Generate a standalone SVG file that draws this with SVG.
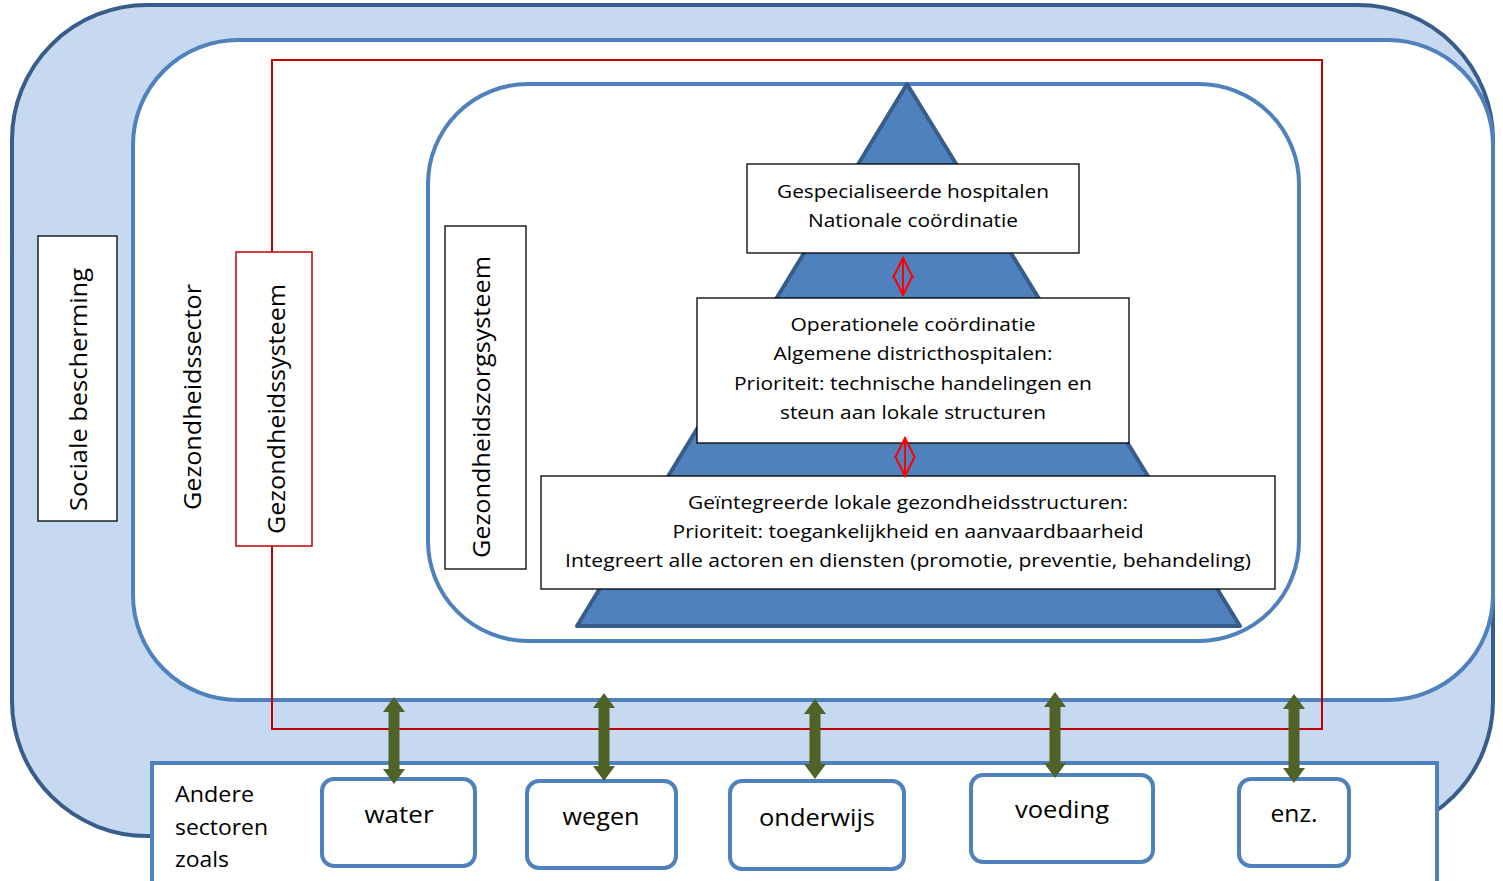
<svg xmlns="http://www.w3.org/2000/svg" width="1503" height="881" viewBox="0 0 1503 881">
<style>
text{font-family:"Open Sans","Liberation Sans",sans-serif;fill:#000}
.t{font-size:19px;text-anchor:middle}
.v{font-size:24px;text-anchor:middle}
.s{font-size:23px;text-anchor:middle}
.blue{fill:#fff;stroke:#4F81BD;stroke-width:4}
.box{fill:#fff;stroke:#000;stroke-width:1.3}
.garrow{fill:#4F6228}
.rarrow{fill:none;stroke:#FF0000;stroke-width:2}
</style>
<rect width="1503" height="881" fill="#fff"/>
<g id="sociale-bescherming">
<rect x="12" y="5" width="1481" height="831" rx="135" fill="#C6D9F1" stroke="#385D8A" stroke-width="4"/>
</g>
<g id="gezondheidssector">
<rect x="133" y="40" width="1360" height="660" rx="105" class="blue"/>
</g>
<g id="gezondheidssysteem">
<rect x="272" y="60" width="1050" height="669" fill="none" stroke="#C00000" stroke-width="2"/>
</g>
<g id="gezondheidszorgsysteem">
<rect x="428" y="84" width="871" height="557" rx="100" class="blue"/>
</g>
<g id="pyramid">
<polygon points="907,84 1240,626 577,626" fill="#4F81BD" stroke="#385D8A" stroke-width="4" stroke-linejoin="round"/>
</g>
<g id="label-sociale">
<rect x="38" y="236" width="79" height="285" class="box"/>
<text class="v" transform="translate(87,389.5) rotate(-90)" textLength="243" lengthAdjust="spacingAndGlyphs">Sociale bescherming</text>
</g>
<g id="label-sector">
<text class="v" transform="translate(201,397) rotate(-90)" textLength="226" lengthAdjust="spacingAndGlyphs">Gezondheidssector</text>
</g>
<g id="label-systeem">
<rect x="236" y="252" width="76" height="294" fill="#fff" stroke="#C00000" stroke-width="1.5"/>
<text class="v" transform="translate(285,409) rotate(-90)" textLength="250" lengthAdjust="spacingAndGlyphs">Gezondheidssysteem</text>
</g>
<g id="label-zorgsysteem">
<rect x="445" y="226" width="81" height="343" class="box"/>
<text class="v" transform="translate(490,407) rotate(-90)" textLength="302" lengthAdjust="spacingAndGlyphs">Gezondheidszorgsysteem</text>
</g>
<g id="level-top">
<rect x="747" y="164" width="332" height="89" class="box"/>
<text class="t" x="913" y="198" textLength="272" lengthAdjust="spacingAndGlyphs">Gespecialiseerde hospitalen</text>
<text class="t" x="913" y="227" textLength="210" lengthAdjust="spacingAndGlyphs">Nationale coördinatie</text>
</g>
<g id="level-middle">
<rect x="697" y="298" width="432" height="145" class="box"/>
<text class="t" x="913" y="330.5" textLength="245" lengthAdjust="spacingAndGlyphs">Operationele coördinatie</text>
<text class="t" x="913" y="359.5" textLength="279" lengthAdjust="spacingAndGlyphs">Algemene districthospitalen:</text>
<text class="t" x="913" y="389.5" textLength="358" lengthAdjust="spacingAndGlyphs">Prioriteit: technische handelingen en</text>
<text class="t" x="913" y="418.5" textLength="266" lengthAdjust="spacingAndGlyphs">steun aan lokale structuren</text>
</g>
<g id="level-bottom">
<rect x="541" y="476" width="734" height="113" class="box"/>
<text class="t" x="908" y="509" textLength="440" lengthAdjust="spacingAndGlyphs">Geïntegreerde lokale gezondheidsstructuren:</text>
<text class="t" x="908" y="538" textLength="471" lengthAdjust="spacingAndGlyphs">Prioriteit: toegankelijkheid en aanvaardbaarheid</text>
<text class="t" x="908" y="567" textLength="686" lengthAdjust="spacingAndGlyphs">Integreert alle actoren en diensten (promotie, preventie, behandeling)</text>
</g>
<g id="andere-sectoren">
<rect x="152" y="763" width="1285" height="130" class="blue"/>
<text x="175" y="802" font-size="22" textLength="79" lengthAdjust="spacingAndGlyphs">Andere</text>
<text x="175" y="835" font-size="22" textLength="93" lengthAdjust="spacingAndGlyphs">sectoren</text>
<text x="175" y="867" font-size="22" textLength="54" lengthAdjust="spacingAndGlyphs">zoals</text>
</g>
<g id="water">
<rect x="322" y="779" width="153" height="87" rx="12" class="blue"/>
<text class="s" x="399" y="823" textLength="69" lengthAdjust="spacingAndGlyphs">water</text>
</g>
<g id="wegen">
<rect x="527" y="781" width="149" height="87" rx="12" class="blue"/>
<text class="s" x="601" y="825" textLength="77" lengthAdjust="spacingAndGlyphs">wegen</text>
</g>
<g id="onderwijs">
<rect x="730" y="781" width="174" height="88" rx="12" class="blue"/>
<text class="s" x="817" y="826" textLength="116" lengthAdjust="spacingAndGlyphs">onderwijs</text>
</g>
<g id="voeding">
<rect x="971" y="775" width="182" height="87" rx="12" class="blue"/>
<text class="s" x="1062" y="818" textLength="94" lengthAdjust="spacingAndGlyphs">voeding</text>
</g>
<g id="enz">
<rect x="1239" y="779" width="110" height="87" rx="12" class="blue"/>
<text class="s" x="1294" y="822" textLength="47" lengthAdjust="spacingAndGlyphs">enz.</text>
</g>
<g id="connectors">
<g class="rarrow">
<path d="M903,258 V295 M893,278 L903,258 L913,278 M893,275 L903,295 L913,275"/>
<path d="M905,438 V476 M895,458 L905,438 L915,458 M895,456 L905,476 L915,456"/>
</g>
<g class="garrow">
<polygon points="394,697 405,712 399.5,712 399.5,769 405,769 394,784 383,769 388.5,769 388.5,712 383,712"/>
<polygon points="604,693 615,708 609.5,708 609.5,766 615,766 604,781 593,766 598.5,766 598.5,708 593,708"/>
<polygon points="815,699 826,714 820.5,714 820.5,764 826,764 815,779 804,764 809.5,764 809.5,714 804,714"/>
<polygon points="1055,692 1066,707 1060.5,707 1060.5,763 1066,763 1055,778 1044,763 1049.5,763 1049.5,707 1044,707"/>
<polygon points="1294,694 1305,709 1299.5,709 1299.5,768 1305,768 1294,783 1283,768 1288.5,768 1288.5,709 1283,709"/>
</g>
</g>
</svg>
